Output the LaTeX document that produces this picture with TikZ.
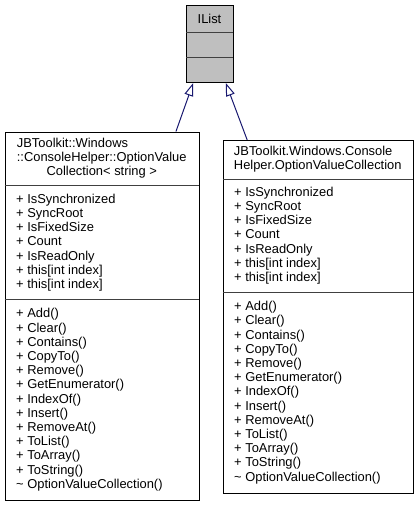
\documentclass[tikz,border=0pt]{standalone}
\usepackage{fontspec}
\setmainfont{Liberation Sans}
\usetikzlibrary{arrows.meta,calc}
\definecolor{ilistgray}{RGB}{191,191,191}
\definecolor{edgeblue}{RGB}{25,25,112}

\begin{document}
\begin{tikzpicture}[x=1pt, y=-1pt, font=\fontsize{12.9}{14.2}\selectfont]
\tikzset{
  cls/.style={draw, line width=1pt, fill=white, inner sep=0pt, anchor=north west},
  sep/.style={line width=1pt, draw=black!75},
  mem/.style={anchor=west, align=left, inner sep=0pt},
  ttl/.style={inner sep=0pt},
  inh/.style={draw=edgeblue, line width=1pt, -{Triangle[open, length=13pt, width=9pt]}}}
\useasboundingbox (0,0) rectangle (419,507);

% ---------------- interface ----------------
\node[cls, fill=ilistgray, minimum width=47pt, minimum height=77pt] (ilist) at (186,5) {};
\draw[sep] (186,32) -- (233,32);
\draw[sep] (186,57) -- (233,57);
\node[ttl] (ilistname) at (209.5,18.5) {IList};

% ---------------- generic collection (left) ----------------
\node[cls, minimum width=194.5pt, minimum height=368.5pt] (lcoll) at (4.5,131.5) {};
\draw[sep] (4.5,185.5) -- (199,185.5);
\draw[sep] (4.5,299.5) -- (199,299.5);
\node[ttl] (ltitle) at (101.75,158.5) {\begin{tabular}{@{}l@{}}
  JBToolkit::Windows\\
  ::ConsoleHelper::OptionValue\\
  \multicolumn{1}{@{}c@{}}{Collection< string >}\end{tabular}};
\node[mem] (lattr) at (16,242.5) {+ IsSynchronized\\+ SyncRoot\\+ IsFixedSize\\+ Count\\
  + IsReadOnly\\+ this[int index]\\+ this[int index]};
\node[mem] (lmeth) at (16,399.75) {+ Add()\\+ Clear()\\+ Contains()\\+ CopyTo()\\+ Remove()\\
  + GetEnumerator()\\+ IndexOf()\\+ Insert()\\+ RemoveAt()\\+ ToList()\\+ ToArray()\\
  + ToString()\\\textasciitilde{} OptionValueCollection()};

% ---------------- plain collection (right) ----------------
\node[cls, minimum width=189.5pt, minimum height=353pt] (rcoll) at (223,140) {};
\draw[sep] (223,179) -- (412.5,179);
\draw[sep] (223,292) -- (412.5,292);
\node[ttl] (rtitle) at (317.75,159.5) {\begin{tabular}{@{}l@{}}
  JBToolkit.Windows.Console\\
  \multicolumn{1}{@{}c@{}}{Helper.OptionValueCollection}\end{tabular}};
\node[mem] (rattr) at (234,235.5) {+ IsSynchronized\\+ SyncRoot\\+ IsFixedSize\\+ Count\\
  + IsReadOnly\\+ this[int index]\\+ this[int index]};
\node[mem] (rmeth) at (234,392.5) {+ Add()\\+ Clear()\\+ Contains()\\+ CopyTo()\\+ Remove()\\
  + GetEnumerator()\\+ IndexOf()\\+ Insert()\\+ RemoveAt()\\+ ToList()\\+ ToArray()\\
  + ToString()\\\textasciitilde{} OptionValueCollection()};

% ---------------- inheritance ----------------
\draw[inh] ($(lcoll.north west)!0.877!(lcoll.north east)$) -- ($(ilist.south west)!0.15!(ilist.south east)$);
\draw[inh] ($(rcoll.north west)!0.127!(rcoll.north east)$) -- ($(ilist.south west)!0.83!(ilist.south east)$);
\end{tikzpicture}
\end{document}
